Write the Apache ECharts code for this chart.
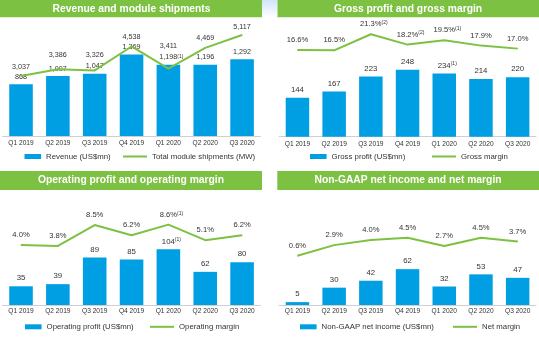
<!DOCTYPE html>
<html><head><meta charset="utf-8">
<script src="https://cdn.jsdelivr.net/npm/echarts@6/dist/echarts.min.js"></script>
<style>html,body{margin:0;padding:0;background:#fff}#c{width:539px;height:337px}</style>
</head><body><div id="c"></div>
<script>
// ---- data ----
const categories = ['Q1 2019','Q2 2019','Q3 2019','Q4 2019','Q1 2020','Q2 2020','Q3 2020'];
const revenue = [868,1007,1047,1369,1198,1196,1292];
const shipments = [3037,3386,3326,4538,3411,4469,5117];
const grossProfit = [144,167,223,248,234,214,220];
const grossMargin = [16.6,16.5,21.3,18.2,19.5,17.9,17.0];
const opProfit = [35,39,89,85,104,62,80];
const opMargin = [4.0,3.8,8.5,6.2,8.6,5.1,6.2];
const netIncome = [5,30,42,62,32,53,47];
const netMargin = [0.6,2.9,4.0,4.5,2.7,4.5,3.7];
const revenueNotes = [null,null,null,null,'(1)',null,null];
const shipmentNotes = [null,null,null,null,null,null,null];
const grossProfitNotes = [null,null,null,null,'(1)',null,null];
const grossMarginNotes = [null,null,'(2)','(2)','(1)',null,null];
const opProfitNotes = [null,null,null,null,'(1)',null,null];
const opMarginNotes = [null,null,null,null,'(1)',null,null];
const netIncomeNotes = [null,null,null,null,null,null,null];
const netMarginNotes = [null,null,null,null,null,null,null];
const titles = ['Revenue and module shipments','Gross profit and gross margin','Operating profit and operating margin','Non-GAAP net income and net margin'];
const barNames = ['Revenue (US$mn)','Gross profit (US$mn)','Operating profit (US$mn)','Non-GAAP net income (US$mn)'];
const lineNames = ['Total module shipments (MW)','Gross margin','Operating margin','Net margin'];

// ---- styling / layout ----
const FONT = "'Liberation Sans',Arial,sans-serif";
const BLUE = '#009fe3', GREEN = '#7cc142', TXT = '#333333';
const grids = [
  {left:2.6, top:20, width:257.9, height:116},
  {left:279.1, top:20, width:256.9, height:116.7},
  {left:2.6, top:190, width:257.9, height:115},
  {left:279.1, top:190, width:256.9, height:115}
];
const barRange = [[0,1950],[0,432],[0,215],[0,199]];
const lineRange = [[0,5880],[-9.37,25.57],[-9.5,16.4],[-10.06,14.83]];
const labelMargin = [4,4,3,3];
const shipLabelDy = [0,-5,-6,0,-13,0,1.5];
const legendPos = [
  {bar:[24.5,152.5], line:[123,152.5]},
  {bar:[310,152.5], line:[432,152.5]},
  {bar:[25,322.8], line:[150,322.8]},
  {bar:[300,322.8], line:[453,322.8]}
];
const banners = [[0,0,262,17.3,131.5,8.7],[277.3,0,261.7,17.3,408,8.7],[0,171,262,19,131,180.5],[277.3,171,261.7,19,408,180.5]];

const fmtNum = v => v.toLocaleString('en-US');
const fmtPct = v => v.toFixed(1) + '%';
const rich = { p:{width:6}, s:{fontSize:5, verticalAlign:'top', fontFamily:FONT, color:TXT} };
function labelFn(notes, fmt){
  return p => { const n = notes[p.dataIndex]; const t = fmt(p.value);
    return n ? '{p|}' + t + '{s|' + n + '}' : t; };
}

const barSets = [
  [revenue, revenueNotes, fmtNum, 7.2],
  [grossProfit, grossProfitNotes, fmtNum, 7.8],
  [opProfit, opProfitNotes, fmtNum, 7.8],
  [netIncome, netIncomeNotes, fmtNum, 7.8]
];
const lineSets = [
  [shipments, shipmentNotes, fmtNum, 7.2],
  [grossMargin, grossMarginNotes, fmtPct, 7.6],
  [opMargin, opMarginNotes, fmtPct, 7.6],
  [netMargin, netMarginNotes, fmtPct, 7.6]
];

const xAxis = [], yAxis = [], series = [], legend = [], graphic = [];
grids.forEach((g,i) => {
  xAxis.push({type:'category', gridIndex:i, data:categories,
    axisTick:{show:false}, axisLine:{lineStyle:{color:'#cfcfcf', width:1}},
    axisLabel:{fontSize:6.6, color:TXT, fontFamily:FONT, margin:labelMargin[i], interval:0}});
  yAxis.push({type:'value', gridIndex:i, min:barRange[i][0], max:barRange[i][1], show:false});
  yAxis.push({type:'value', gridIndex:i, min:lineRange[i][0], max:lineRange[i][1], show:false});
  const [bv, bn, bf, bfs] = barSets[i];
  series.push({type:'bar', name:barNames[i], xAxisIndex:i, yAxisIndex:2*i, data:bv,
    barWidth:'64%', itemStyle:{color:BLUE},
    label:{show:true, position:'top', distance:4, fontSize:bfs, color:TXT, fontFamily:FONT,
      formatter:labelFn(bn, bf), rich:rich}});
  const [lv, ln, lf, lfs] = lineSets[i];
  series.push({type:'line', name:lineNames[i], xAxisIndex:i, yAxisIndex:2*i+1,
    data: lv.map((v,k) => i===0 ? {value:v, label:{offset:[0, shipLabelDy[k]]}} : v),
    symbol:'circle', symbolSize:1, showSymbol:true,
    itemStyle:{color:GREEN}, lineStyle:{color:GREEN, width:2},
    label:{show:true, position:'top', distance:5.5, fontSize:lfs, color:TXT, fontFamily:FONT,
      formatter:labelFn(ln, lf), rich:rich}});
  const lp = legendPos[i];
  legend.push({data:[barNames[i]], left:lp.bar[0], top:lp.bar[1], padding:0, icon:'rect',
    itemWidth:16.6, itemHeight:5, textStyle:{fontSize:7.8, color:TXT, fontFamily:FONT}, selectedMode:false});
  legend.push({data:[lineNames[i]], left:lp.line[0], top:lp.line[1], padding:0, icon:'rect',
    itemWidth:24, itemHeight:2, textStyle:{fontSize:7.8, color:TXT, fontFamily:FONT}, selectedMode:false});
  const b = banners[i];
  graphic.push({type:'rect', shape:{x:b[0], y:b[1], width:b[2], height:b[3]}, style:{fill:GREEN}, silent:true});
  graphic.push({type:'text', x:b[4], y:b[5], silent:true,
    style:{text:titles[i], fill:'#ffffff', font:'bold 10.3px ' + FONT, align:'center', verticalAlign:'middle'}});
});
graphic.push({type:'rect', shape:{x:262, y:0, width:15.3, height:17.3}, silent:true,
  style:{fill:new echarts.graphic.LinearGradient(0,0,0,1,[{offset:0,color:'#cfe5f7'},{offset:1,color:'#ffffff'}])}});

const chart = echarts.init(document.getElementById('c'), null, {renderer:'canvas'});
chart.setOption({animation:false, grid:grids, xAxis, yAxis, series, legend, graphic});
</script></body></html>
